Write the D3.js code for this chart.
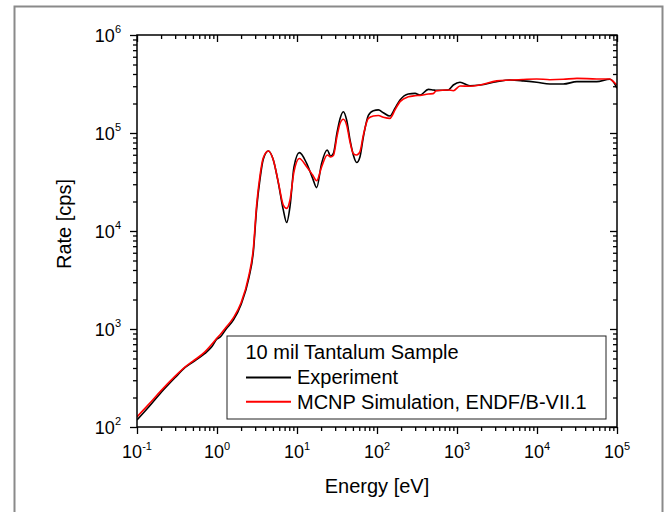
<!DOCTYPE html>
<html>
<head>
<meta charset="utf-8">
<script src="https://cdn.jsdelivr.net/npm/d3@7"></script>
<style>
  body { margin: 0; background: #fff; }
  text { font-family: "Liberation Sans", Arial, sans-serif; fill: #000; }
</style>
</head>
<body>
<script>
// energies in eV, rates in cps
var energies = [0.1, 0.14, 0.2, 0.3, 0.4, 0.5, 0.7, 0.85, 1.0, 1.1,
    1.3, 1.6, 2.0, 2.5, 2.85, 3.13, 3.45, 3.79, 4.38, 5.06,
    5.84, 6.74, 7.43, 8.17, 9.17, 10.7, 13.2, 15.7, 17.6, 20.3,
    23.9, 26.3, 28.5, 31.6, 34.5, 37.9, 41.8, 46, 50.6, 55.7,
    61.3, 67.5, 78, 90, 104, 120, 145, 168, 194, 246,
    299, 345, 438, 503, 550, 777, 900, 1090, 1450, 1940,
    3130, 4580, 6740, 9900, 14500, 21300, 31600, 55700, 81300, 90000,
    100000];

var experiment = [118, 160, 225, 320, 405, 460, 560, 650, 790, 830,
    1000, 1230, 1780, 3300, 6200, 17000, 34000, 54000, 65500, 53000,
    31000, 16400, 12200, 17700, 45000, 63000, 49000, 34400, 27700, 49000,
    67000, 58000, 62000, 100000, 140000, 165000, 135000, 85000, 59700, 50000,
    57300, 91000, 151000, 169000, 172000, 161000, 149000, 179000, 217000, 250000,
    254000, 244000, 279000, 275000, 272000, 275000, 309000, 329000, 304000, 309000,
    334000, 347000, 340000, 329000, 316000, 316000, 334000, 334000, 353000, 334000,
    286000];

var simulation = [127, 170, 235, 330, 410, 470, 580, 690, 810, 880,
    1040, 1300, 1850, 3500, 6700, 18500, 37000, 56000, 65500, 53000,
    31500, 18400, 17000, 20700, 40300, 55000, 45300, 37200, 32600, 45000,
    59700, 57000, 59000, 92000, 125000, 138000, 120000, 81000, 61700, 59700,
    64600, 95000, 141000, 149000, 151000, 145000, 141000, 172000, 209000, 234000,
    240000, 242000, 250000, 252000, 270000, 275000, 270000, 302000, 300000, 309000,
    340000, 347000, 352000, 356000, 350000, 353000, 361000, 356000, 356000, 334000,
    309000];

var xTickExps = [-1, 0, 1, 2, 3, 4, 5];
var yTickExps = [2, 3, 4, 5, 6];

var legendTitle = "10 mil Tantalum Sample";
var seriesNames = ["Experiment", "MCNP Simulation, ENDF/B-VII.1"];
var seriesColors = ["#000000", "#ff0000"];

var svg = d3.select("body")
    .append("svg")
    .attr("width", 671)
    .attr("height", 512)
    .style("display", "block");

// outer grey frame (bottom edge runs off the picture)
svg.append("rect")
    .attr("x", 14.5).attr("y", 6.5)
    .attr("width", 648).attr("height", 530)
    .attr("fill", "none")
    .attr("stroke", "#8a8a8a")
    .attr("stroke-width", 2);

var margin = {top: 35, left: 137};
var width = 480, height = 392;

var x = d3.scaleLog().domain([0.1, 1e5]).range([margin.left, margin.left + width]);
var y = d3.scaleLog().domain([100, 1e6]).range([margin.top + height, margin.top]);

var majorX = xTickExps.map(function (e) { return Math.pow(10, e); });
var majorY = yTickExps.map(function (e) { return Math.pow(10, e); });

function minors(exps) {
    var out = [];
    for (var i = 0; i < exps.length - 1; i++) {
        for (var k = 2; k <= 9; k++) out.push(k * Math.pow(10, exps[i]));
    }
    return out;
}
var minorX = minors(xTickExps);
var minorY = minors(yTickExps);

function styleAxis(g) {
    g.select(".domain").remove();
    g.selectAll("line").attr("stroke", "#000").attr("stroke-width", 1.3);
    g.selectAll("text").remove();
}

var bottomY = margin.top + height, rightX = margin.left + width;

// bottom / left ticks point outward, top / right inward
svg.append("g").attr("transform", "translate(0," + bottomY + ")")
    .call(d3.axisBottom(x).tickValues(majorX).tickSize(7)).call(styleAxis);
svg.append("g").attr("transform", "translate(0," + bottomY + ")")
    .call(d3.axisBottom(x).tickValues(minorX).tickSize(4)).call(styleAxis);
svg.append("g").attr("transform", "translate(0," + margin.top + ")")
    .call(d3.axisBottom(x).tickValues(majorX).tickSize(7)).call(styleAxis);
svg.append("g").attr("transform", "translate(0," + margin.top + ")")
    .call(d3.axisBottom(x).tickValues(minorX).tickSize(4)).call(styleAxis);

svg.append("g").attr("transform", "translate(" + margin.left + ",0)")
    .call(d3.axisLeft(y).tickValues(majorY).tickSize(7)).call(styleAxis);
svg.append("g").attr("transform", "translate(" + margin.left + ",0)")
    .call(d3.axisLeft(y).tickValues(minorY).tickSize(4)).call(styleAxis);
svg.append("g").attr("transform", "translate(" + rightX + ",0)")
    .call(d3.axisLeft(y).tickValues(majorY).tickSize(7)).call(styleAxis);
svg.append("g").attr("transform", "translate(" + rightX + ",0)")
    .call(d3.axisLeft(y).tickValues(minorY).tickSize(4)).call(styleAxis);

// curves
var data = energies.map(function (e, i) {
    return {e: e, exp: experiment[i], sim: simulation[i]};
});

svg.append("clipPath").attr("id", "plotclip")
    .append("rect")
    .attr("x", margin.left).attr("y", margin.top)
    .attr("width", width).attr("height", height);

var plot = svg.append("g").attr("clip-path", "url(#plotclip)");

["exp", "sim"].forEach(function (key, i) {
    var line = d3.line()
        .x(function (d) { return x(d.e); })
        .y(function (d) { return y(d[key]); })
        .curve(d3.curveMonotoneX);
    plot.append("path")
        .datum(data)
        .attr("d", line)
        .attr("fill", "none")
        .attr("stroke", seriesColors[i])
        .attr("stroke-width", 1.6)
        .attr("stroke-linejoin", "round");
});

// plot frame
svg.append("rect")
    .attr("x", margin.left).attr("y", margin.top)
    .attr("width", width).attr("height", height)
    .attr("fill", "none")
    .attr("stroke", "#000")
    .attr("stroke-width", 1.5);

// tick labels 10^n
svg.selectAll(".xlab")
    .data(xTickExps)
    .enter()
    .append("text")
    .attr("class", "xlab")
    .attr("x", function (d) { return x(Math.pow(10, d)); })
    .attr("y", 458)
    .attr("text-anchor", "middle")
    .style("font-size", "18px")
    .each(function (d) {
        var t = d3.select(this);
        t.append("tspan").text("10");
        t.append("tspan").attr("dy", -8).style("font-size", "11px").text(d);
    });

svg.selectAll(".ylab")
    .data(yTickExps)
    .enter()
    .append("text")
    .attr("class", "ylab")
    .attr("x", 121)
    .attr("y", function (d) { return y(Math.pow(10, d)) + 7; })
    .attr("text-anchor", "end")
    .style("font-size", "18px")
    .each(function (d) {
        var t = d3.select(this);
        t.append("tspan").text("10");
        t.append("tspan").attr("dy", -9).style("font-size", "11px").text(d);
    });

// axis titles
svg.append("text")
    .attr("x", margin.left + width / 2)
    .attr("y", 493)
    .attr("text-anchor", "middle")
    .style("font-size", "20px")
    .text("Energy [eV]");

svg.append("text")
    .attr("transform", "translate(71,224) rotate(-90)")
    .attr("text-anchor", "middle")
    .style("font-size", "20px")
    .text("Rate [cps]");

// legend
var lg = svg.append("g");
lg.append("rect")
    .attr("x", 227).attr("y", 336)
    .attr("width", 379).attr("height", 83)
    .attr("fill", "#fff")
    .attr("stroke", "#222")
    .attr("stroke-width", 1);
lg.append("text")
    .attr("x", 245.5).attr("y", 358.5)
    .style("font-size", "20px")
    .text(legendTitle);
seriesNames.forEach(function (name, i) {
    var yy = 377.5 + i * 24.3;
    lg.append("line")
        .attr("x1", 246).attr("x2", 291)
        .attr("y1", yy).attr("y2", yy)
        .attr("stroke", seriesColors[i])
        .attr("stroke-width", 2);
    lg.append("text")
        .attr("x", 297).attr("y", yy + 6.8)
        .style("font-size", "20px")
        .text(name);
});
</script>
</body>
</html>
